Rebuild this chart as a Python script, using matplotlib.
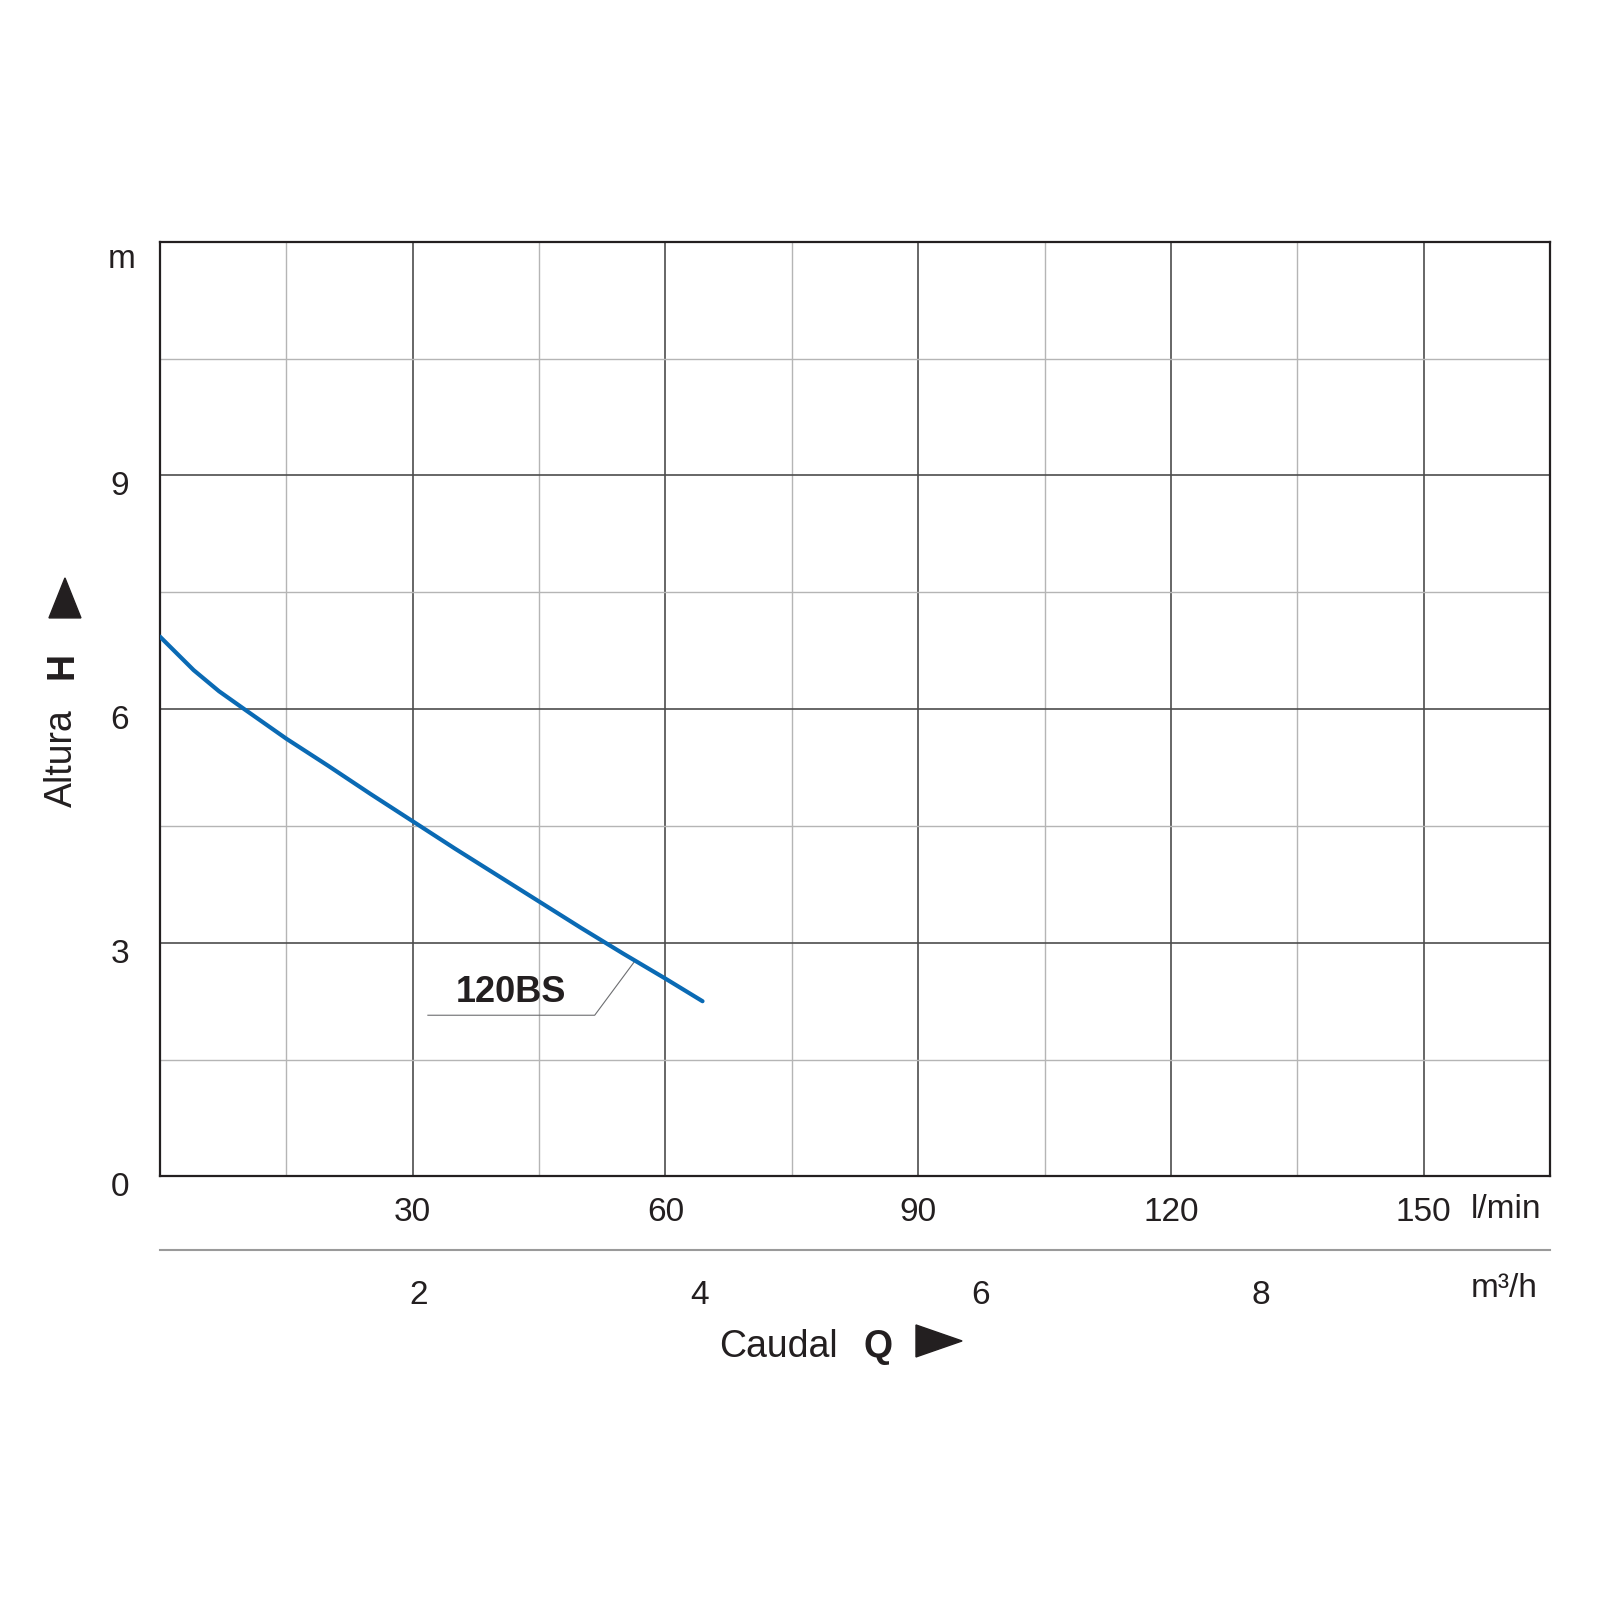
import numpy as np
import matplotlib.pyplot as plt
from matplotlib import transforms
from matplotlib.patches import Polygon

# pump curve 120BS (flow in l/min, head in m)
flow_lmin = [0, 4, 7, 10, 15, 20, 25, 30, 35, 40, 45, 50, 55, 60, 64.4]
head_m = [6.93, 6.50, 6.23, 6.0, 5.62, 5.27, 4.91, 4.56, 4.21, 3.87, 3.53, 3.19, 2.86, 2.54, 2.25]

x_ticks = [30, 60, 90, 120, 150]
y_ticks = [0, 3, 6, 9]
m3h_ticks = [2, 4, 6, 8]
pump_name = "120BS"

INK = "#231f20"
BLUE = "#0a6ab4"

plt.rcParams["font.family"] = ["Liberation Sans", "DejaVu Sans"]

fig = plt.figure(figsize=(16, 16), dpi=100)
ax = fig.add_axes([0.1, 0.2647, 0.86875, 0.5842])
ax.set_xlim(0, 165)
ax.set_ylim(0, 12)

ax.set_xticks(np.arange(0, 166, 30))
ax.set_xticks(np.arange(15, 166, 30), minor=True)
ax.set_yticks(np.arange(0, 12.1, 3))
ax.set_yticks(np.arange(1.5, 12, 3), minor=True)
ax.grid(which="major", color="#4d4d4d", lw=1.2)
ax.grid(which="minor", color="#b5b5b5", lw=1.0)
ax.set_axisbelow(True)
ax.tick_params(which="both", length=0, labelbottom=False, labelleft=False)
for s in ax.spines.values():
    s.set_color(INK)
    s.set_linewidth(1.6)

# curve
ax.plot(flow_lmin, head_m, color=BLUE, lw=3.0, solid_capstyle="round",
        solid_joinstyle="round", zorder=3)

# label with leader line
x0 = 56.4
y0 = np.interp(x0, flow_lmin, head_m)
ax.plot([x0, 51.6, 31.8], [y0, 2.07, 2.07], color="#6d6e71", lw=0.8, zorder=2)
ax.text(41.7, 2.24, pump_name, ha="center", va="baseline", fontsize=26,
        fontweight="bold", color=INK)

# l/min tick labels
tx = transforms.blended_transform_factory(ax.transData, ax.transAxes)
for v in x_ticks:
    ax.text(v, -0.0481, str(v), transform=tx, ha="center", va="baseline",
            fontsize=24, color=INK)
ax.text(0.968, -0.0446, "l/min", transform=ax.transAxes, ha="center",
        va="baseline", fontsize=24, color=INK)

# separator and m3/h scale
ax.plot([0, 1], [-0.0786, -0.0786], transform=ax.transAxes, clip_on=False,
        color="#9a9a9a", lw=1.5)
tx2 = transforms.offset_copy(tx, fig=fig, x=-22, units="dots")
for v in m3h_ticks:
    ax.text(v * 1000 / 60, -0.1369, str(v), transform=tx2, ha="center",
            va="baseline", fontsize=24, color=INK)
ax.text(0.967, -0.1294, "m³/h", transform=ax.transAxes, ha="center",
        va="baseline", fontsize=24, color=INK)

# y tick labels
ty = transforms.offset_copy(ax.get_yaxis_transform(), fig=fig, y=-20, units="dots")
for v in y_ticks:
    ax.text(-0.0288, v, str(v), transform=ty, ha="center", va="baseline",
            fontsize=24, color=INK)
ax.text(-0.0277, 0.9717, "m", transform=ax.transAxes, ha="center",
        va="baseline", fontsize=24, color=INK)

# axis titles
fig.text(0.4494, 0.1519, "Caudal", ha="left", va="baseline", fontsize=27, color=INK)
fig.text(0.5394, 0.1519, "Q", ha="left", va="baseline", fontsize=27,
         fontweight="bold", color=INK)
fig.patches.append(Polygon([(0.5725, 0.1519), (0.5725, 0.1719), (0.6013, 0.1619)],
                           closed=True, transform=fig.transFigure, color=INK))

fig.text(0.039, 0.526, "Altura", rotation=90, ha="center", va="center",
         fontsize=27, color=INK)
fig.text(0.039, 0.5838, "H", rotation=90, ha="center", va="center",
         fontsize=27, fontweight="bold", color=INK)
fig.patches.append(Polygon([(0.0306, 0.6138), (0.0506, 0.6138), (0.0406, 0.6388)],
                           closed=True, transform=fig.transFigure, color=INK))

fig.savefig("out.png", dpi=100, facecolor="white")
